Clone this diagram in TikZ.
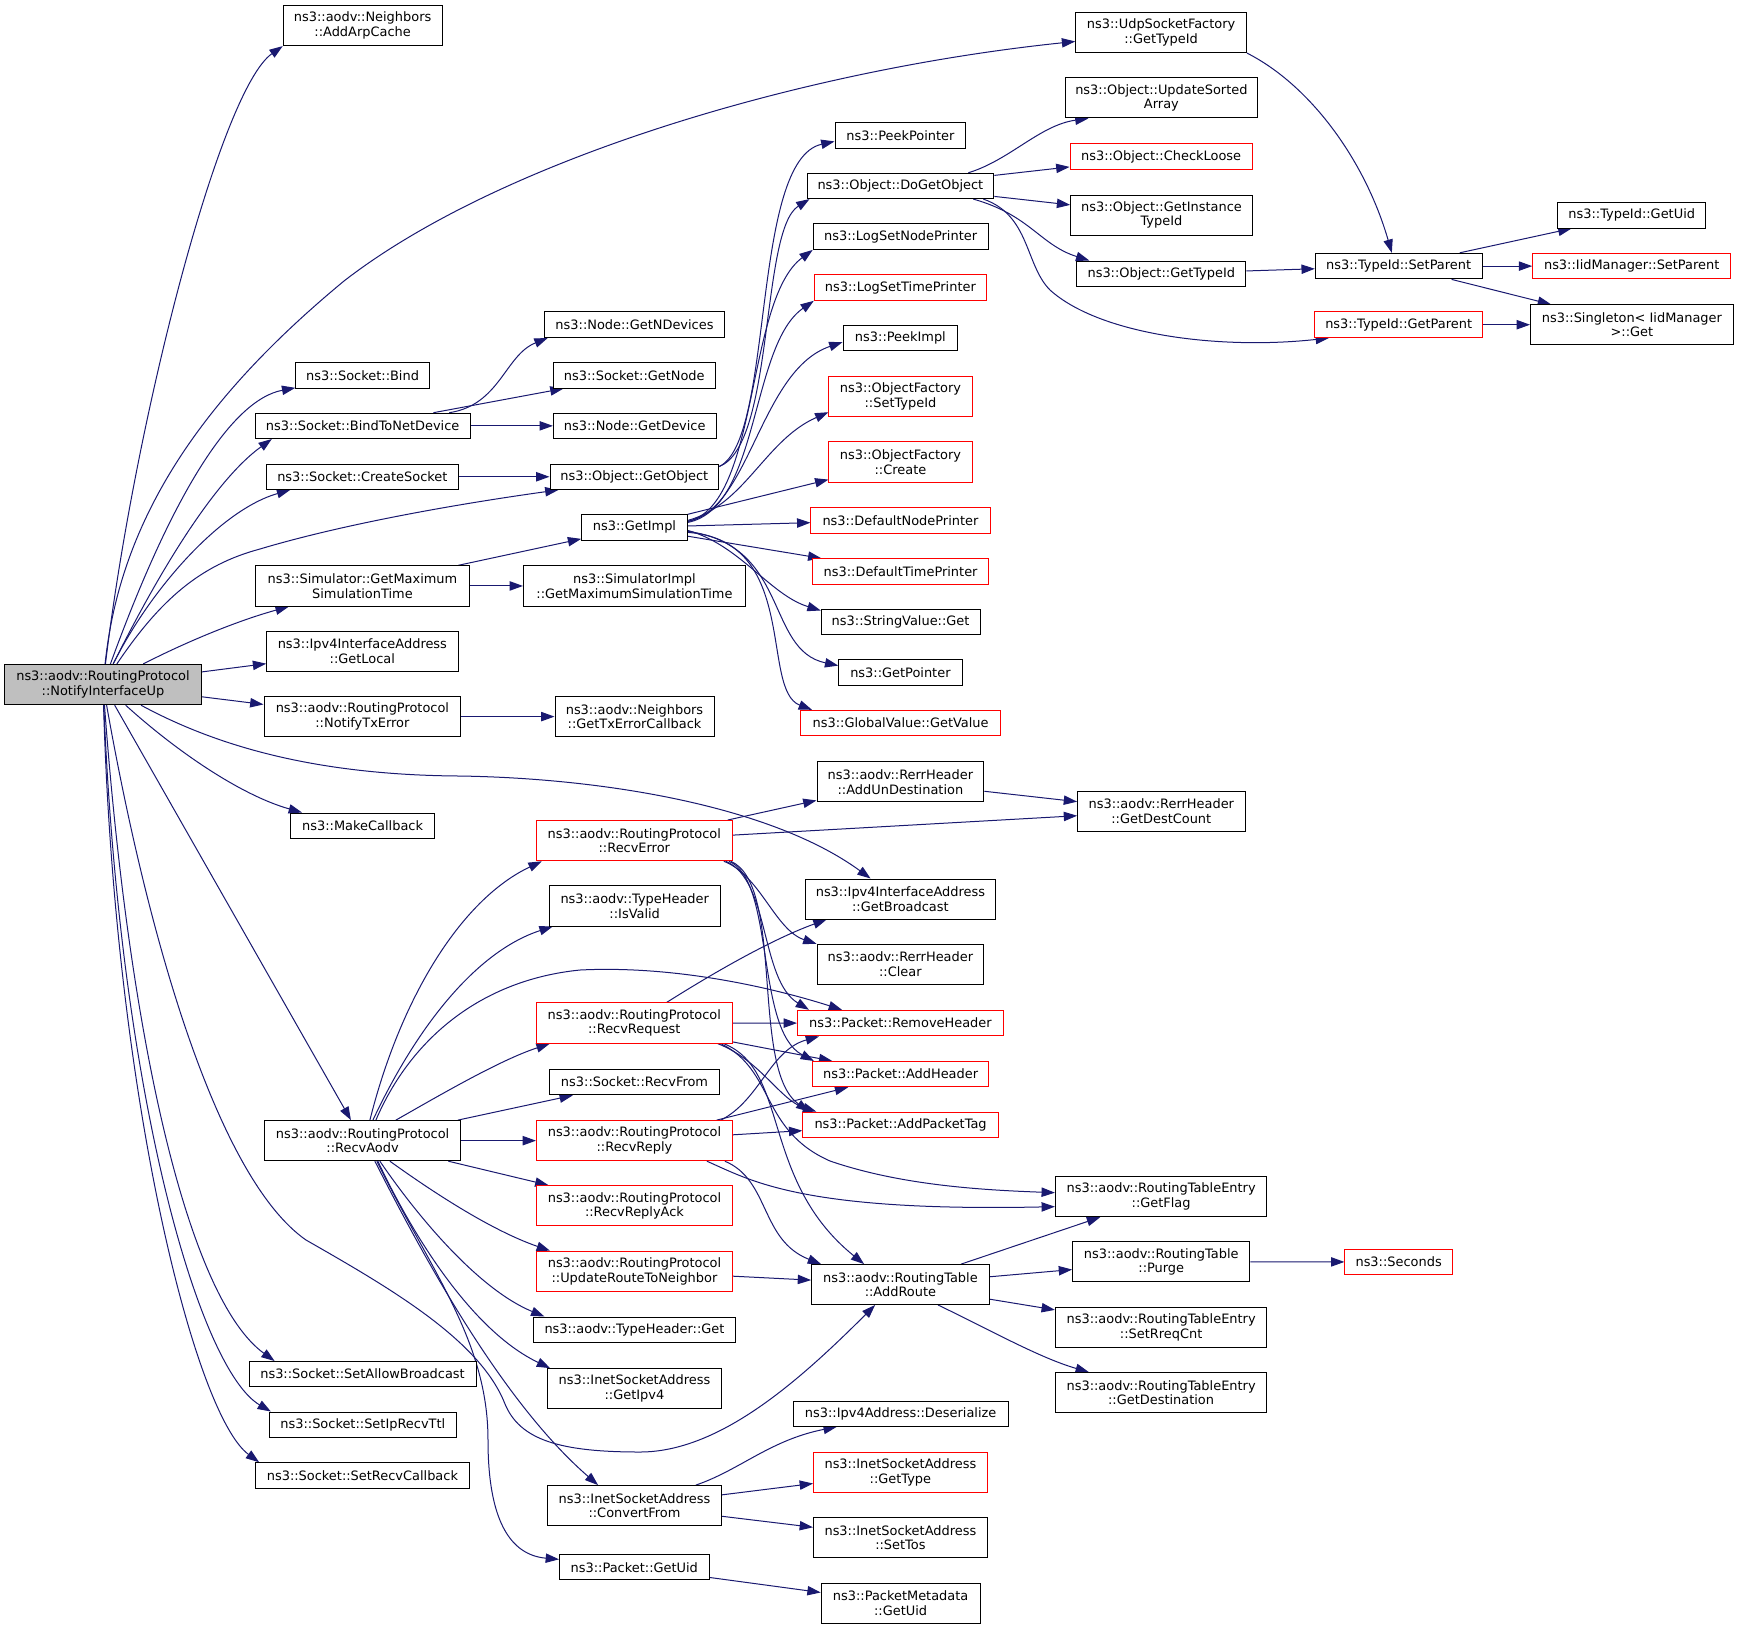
\documentclass[tikz,border=0pt]{standalone}
\usepackage{fontspec}
\setmainfont{DejaVu Sans}
\usetikzlibrary{arrows.meta,calc}
\definecolor{edgecol}{HTML}{191970}
\definecolor{rootfill}{HTML}{BFBFBF}
\pgfdeclarelayer{bg}
\pgfdeclarelayer{paper}
\pgfsetlayers{paper,bg,main}
\newcommand{\mkfn}[7][]{\node[fn,#1,minimum width={(#4-#3)*0.75pt},minimum height={(#6-#5)*0.75pt}] (#2) at ({(#3+#4)/2},{(#5+#6)/2}) {#7};}
\begin{document}
\begin{tikzpicture}[x=0.75pt,y=-0.75pt,
  fn/.style={draw=black,fill=white,line width=0.75pt,inner sep=0pt,align=center,font=\fontsize{9.7}{11}\selectfont},
  redfn/.style={draw=red},
  rootfn/.style={fill=rootfill},
  cl/.style={draw=edgecol,line width=0.75pt,-{Triangle[length=10pt,width=7pt]}}]
\begin{pgfonlayer}{paper}
\fill[white] (0,0) rectangle (1739,1629);
\end{pgfonlayer}
\useasboundingbox (0,0) rectangle (1739,1629);
% column 1-2
\mkfn[rootfn]{N}{4.6}{201.3}{664.4}{704.7}{ns3::aodv::RoutingProtocol\\::NotifyInterfaceUp}
\mkfn{AddArpCache}{283.2}{442}{5.6}{45.6}{ns3::aodv::Neighbors\\::AddArpCache}
\mkfn{Bind}{295.8}{429.4}{362.7}{388}{ns3::Socket::Bind}
\mkfn{BindTND}{255.3}{470}{413.2}{438.5}{ns3::Socket::BindToNetDevice}
\mkfn{CreateSocket}{266.7}{458}{464.1}{489.4}{ns3::Socket::CreateSocket}
\mkfn{GetMaxSim}{255.3}{469.6}{565.8}{606.1}{ns3::Simulator::GetMaximum\\SimulationTime}
\mkfn{GetLocal}{266.7}{458}{631.4}{671.4}{ns3::Ipv4InterfaceAddress\\::GetLocal}
\mkfn{NotifyTxError}{264}{460.8}{696.6}{736.6}{ns3::aodv::RoutingProtocol\\::NotifyTxError}
\mkfn{MakeCallback}{290.5}{434.7}{813}{838.7}{ns3::MakeCallback}
\mkfn{RecvAodv}{264.4}{460.8}{1120.6}{1160.7}{ns3::aodv::RoutingProtocol\\::RecvAodv}
\mkfn{SetAllowBroadcast}{249.1}{476}{1361.5}{1386.8}{ns3::Socket::SetAllowBroadcast}
\mkfn{SetIpRecvTtl}{269.4}{456.2}{1412}{1437.4}{ns3::Socket::SetIpRecvTtl}
\mkfn{SetRecvCallback}{255.6}{469.2}{1462.7}{1488}{ns3::Socket::SetRecvCallback}
% column 3
\mkfn{GetNDevices}{544.2}{724.8}{311.9}{337.5}{ns3::Node::GetNDevices}
\mkfn{GetNode}{553.4}{715.2}{362.7}{388}{ns3::Socket::GetNode}
\mkfn{GetDevice}{553.4}{716}{413.2}{438.5}{ns3::Node::GetDevice}
\mkfn{GetObject}{550}{718.6}{464.1}{489.4}{ns3::Object::GetObject}
\mkfn{GetImpl}{581.7}{687.3}{514.6}{540.2}{ns3::GetImpl}
\mkfn{SimImpl}{523.5}{745.4}{565.8}{606.1}{ns3::SimulatorImpl\\::GetMaximumSimulationTime}
\mkfn{GetTxErrCb}{555}{714}{696.6}{736.6}{ns3::aodv::Neighbors\\::GetTxErrorCallback}
\mkfn[redfn]{RecvError}{536.2}{732.4}{820.5}{860.8}{ns3::aodv::RoutingProtocol\\::RecvError}
\mkfn{IsValid}{549.2}{720.2}{885.7}{926}{ns3::aodv::TypeHeader\\::IsValid}
\mkfn[redfn]{RecvRequest}{536.2}{732.4}{1002.9}{1043.2}{ns3::aodv::RoutingProtocol\\::RecvRequest}
\mkfn{RecvFrom}{549.6}{719.4}{1069.2}{1094.8}{ns3::Socket::RecvFrom}
\mkfn[redfn]{RecvReply}{536.5}{732.4}{1120.6}{1160.7}{ns3::aodv::RoutingProtocol\\::RecvReply}
\mkfn[redfn]{RecvReplyAck}{536.5}{732.4}{1185.7}{1225.9}{ns3::aodv::RoutingProtocol\\::RecvReplyAck}
\mkfn[redfn]{UpdRTN}{536.5}{732.4}{1251.2}{1291.3}{ns3::aodv::RoutingProtocol\\::UpdateRouteToNeighbor}
\mkfn{THGet}{533.9}{735.1}{1317}{1342.3}{ns3::aodv::TypeHeader::Get}
\mkfn{GetIpv4}{547.6}{721.3}{1368.6}{1408.4}{ns3::InetSocketAddress\\::GetIpv4}
\mkfn{ConvertFrom}{547.6}{721.3}{1485.6}{1525.8}{ns3::InetSocketAddress\\::ConvertFrom}
\mkfn{PktGetUid}{559.5}{709.1}{1554.8}{1579.8}{ns3::Packet::GetUid}
% column 4
\mkfn{PeekPointer}{835}{965.9}{122.8}{148}{ns3::PeekPointer}
\mkfn{DoGetObject}{807}{993.8}{173.3}{198.6}{ns3::Object::DoGetObject}
\mkfn{LogNode}{813.2}{988}{223.8}{249.4}{ns3::LogSetNodePrinter}
\mkfn[redfn]{LogTime}{814.3}{986.5}{274.7}{300.3}{ns3::LogSetTimePrinter}
\mkfn{PeekImpl}{843}{957.8}{325.5}{350.8}{ns3::PeekImpl}
\mkfn[redfn]{SetTypeId}{828.9}{972}{376.4}{416.7}{ns3::ObjectFactory\\::SetTypeId}
\mkfn[redfn]{OFCreate}{828.9}{972}{441.7}{482}{ns3::ObjectFactory\\::Create}
\mkfn[redfn]{DefNode}{810.9}{990}{507.3}{533.2}{ns3::DefaultNodePrinter}
\mkfn[redfn]{DefTime}{812.4}{988.8}{558.8}{584}{ns3::DefaultTimePrinter}
\mkfn{StringGet}{821.2}{980}{609}{634.5}{ns3::StringValue::Get}
\mkfn{GetPointer}{838.8}{962}{659.8}{685.4}{ns3::GetPointer}
\mkfn[redfn]{GlobalValue}{800.5}{1000.7}{710.3}{735.9}{ns3::GlobalValue::GetValue}
\mkfn{AddUnDest}{817}{983.8}{761.9}{801.9}{ns3::aodv::RerrHeader\\::AddUnDestination}
\mkfn{GetBroadcast}{805.1}{995.7}{879}{919}{ns3::Ipv4InterfaceAddress\\::GetBroadcast}
\mkfn{Clear}{817}{983.8}{944.3}{984.6}{ns3::aodv::RerrHeader\\::Clear}
\mkfn[redfn]{RemoveHeader}{797.5}{1003.4}{1010.3}{1035.9}{ns3::Packet::RemoveHeader}
\mkfn[redfn]{AddHeader}{812.4}{988.8}{1061.5}{1086.7}{ns3::Packet::AddHeader}
\mkfn[redfn]{AddPacketTag}{802.8}{998.4}{1112.1}{1137.5}{ns3::Packet::AddPacketTag}
\mkfn{AddRoute}{811.6}{989.2}{1264.6}{1304.5}{ns3::aodv::RoutingTable\\::AddRoute}
\mkfn{Deserialize}{793.3}{1008}{1401}{1426.3}{ns3::Ipv4Address::Deserialize}
\mkfn[redfn]{GetType}{813.5}{987.3}{1452.6}{1492.7}{ns3::InetSocketAddress\\::GetType}
\mkfn{SetTos}{813.5}{987.3}{1517.7}{1557.9}{ns3::InetSocketAddress\\::SetTos}
\mkfn{PMGetUid}{821.2}{980}{1583.2}{1623.3}{ns3::PacketMetadata\\::GetUid}
% column 5
\mkfn{Udp}{1075.7}{1246.5}{12.6}{52.6}{ns3::UdpSocketFactory\\::GetTypeId}
\mkfn{UpdSorted}{1065}{1257.8}{77.9}{117.9}{ns3::Object::UpdateSorted\\Array}
\mkfn[redfn]{CheckLoose}{1070}{1252.2}{143.8}{169.4}{ns3::Object::CheckLoose}
\mkfn{GetInstTid}{1070.7}{1252.2}{195}{235}{ns3::Object::GetInstance\\TypeId}
\mkfn{ObjGetTid}{1076.8}{1245.8}{261}{286.3}{ns3::Object::GetTypeId}
\mkfn{GetDestCount}{1077.6}{1245}{791}{831}{ns3::aodv::RerrHeader\\::GetDestCount}
\mkfn{GetFlag}{1055.4}{1266.8}{1176.6}{1216.7}{ns3::aodv::RoutingTableEntry\\::GetFlag}
\mkfn{Purge}{1072.6}{1249.9}{1241.7}{1281.9}{ns3::aodv::RoutingTable\\::Purge}
\mkfn{SetRreqCnt}{1055.4}{1266.8}{1307.2}{1347.3}{ns3::aodv::RoutingTableEntry\\::SetRreqCnt}
\mkfn{GetDestination}{1055.4}{1266.8}{1372.6}{1412.8}{ns3::aodv::RoutingTableEntry\\::GetDestination}
% columns 6-7
\mkfn{SetParent}{1315.3}{1482}{253.3}{278.9}{ns3::TypeId::SetParent}
\mkfn[redfn]{GetParent}{1314.5}{1482.8}{311.9}{337.5}{ns3::TypeId::GetParent}
\mkfn[redfn]{Seconds}{1344.9}{1452.4}{1249.1}{1274.8}{ns3::Seconds}
\mkfn{TidGetUid}{1557.5}{1705.9}{202.8}{228}{ns3::TypeId::GetUid}
\mkfn[redfn]{IidSetParent}{1532.7}{1730.7}{253.3}{278.9}{ns3::IidManager::SetParent}
\mkfn{Singleton}{1530.5}{1733.3}{304.9}{344.5}{ns3::Singleton< IidManager\\ >::Get}

\begin{pgfonlayer}{bg}
% from NotifyInterfaceUp
\draw[cl] (N) .. controls (135,420) and (220,90) .. (AddArpCache.south west);
\draw[cl] (N) .. controls (120,520) and (200,400) .. (344,281) .. controls (500,160) and (800,70) .. (Udp);
\draw[cl] (N) .. controls (170,500) and (230,400) .. (Bind);
\draw[cl] (N) .. controls (160,570) and (215,480) .. ($(BindTND.south west)+(17,0)$);
\draw[cl] (N) .. controls (150,590) and (220,510) .. ($(CreateSocket.south west)+(24,0)$);
\draw[cl] (N) .. controls (160,600) and (200,565) .. (260,549) .. controls (340,525) and (450,505) .. ($(GetObject.south west)+(9,0)$);
\draw[cl] (N) .. controls (190,640) and (240,620) .. ($(GetMaxSim.south west)+(34,0)$);
\draw[cl] (N) -- (GetLocal);
\draw[cl] (N) -- (NotifyTxError);
\draw[cl] (N) .. controls (220,748) and (320,775) .. (459,776) .. controls (600,778) and (770,805) .. ($(GetBroadcast.north west)+(66,0)$);
\draw[cl] (N) .. controls (175,750) and (240,795) .. ($(MakeCallback.north west)+(12,0)$);
\draw[cl] (N) -- (RecvAodv);
\draw[cl] (N) .. controls (150,950) and (220,1180) .. (306,1240) .. controls (390,1288) and (480,1340) .. (505,1404) .. controls (520,1440) and (560,1452) .. (640,1452) .. controls (720,1452) and (800,1380) .. ($(AddRoute.south west)+(64,0)$);
\draw[cl] (N) .. controls (130,1050) and (190,1300) .. ($(SetAllowBroadcast.north west)+(26,0)$);
\draw[cl] (N) .. controls (120,1100) and (200,1370) .. ($(SetIpRecvTtl.north west)+(2,0)$);
\draw[cl] (N) .. controls (115,1100) and (195,1415) .. ($(SetRecvCallback.north west)+(4,0)$);
% socket / object
\draw[cl] (BindTND) .. controls (500,405) and (505,355) .. ($(GetNDevices.south west)+(4,0)$);
\draw[cl] (BindTND) -- (GetNode);
\draw[cl] (BindTND) -- (GetDevice);
\draw[cl] (CreateSocket) -- (GetObject);
\draw[cl] ($(GetObject.north east)+(0,3)$) .. controls (775,445) and (760,230) .. ($(DoGetObject.south west)+(3,0)$);
\draw[cl] ($(GetObject.north east)+(0,3)$) .. controls (775,440) and (750,160) .. ($(PeekPointer.west)+(0,6)$);
\draw[cl] (GetMaxSim) -- (GetImpl);
\draw[cl] (GetMaxSim) -- (SimImpl);
\draw[cl] (NotifyTxError) -- (GetTxErrCb);
% GetImpl fan
\draw[cl] ($(GetImpl.east)+(0,-6)$) .. controls (760,505) and (745,300) .. (LogNode.south west);
\draw[cl] ($(GetImpl.east)+(0,-5)$) .. controls (760,508) and (750,345) .. (LogTime.south west);
\draw[cl] ($(GetImpl.east)+(0,-6)$) .. controls (750,510) and (760,370) .. ($(PeekImpl.west)+(0,4)$);
\draw[cl] ($(GetImpl.east)+(0,-7)$) .. controls (745,505) and (765,440) .. ($(SetTypeId.south west)+(0,-5)$);
\draw[cl] (GetImpl) -- (OFCreate);
\draw[cl] (GetImpl) -- (DefNode);
\draw[cl] (GetImpl) -- (DefTime);
\draw[cl] ($(GetImpl.east)+(0,3)$) .. controls (740,545) and (770,595) .. ($(StringGet.north west)+(0,2)$);
\draw[cl] ($(GetImpl.east)+(0,4)$) .. controls (790,545) and (765,650) .. ($(GetPointer.west)+(0,-7)$);
\draw[cl] ($(GetImpl.east)+(0,5)$) .. controls (800,540) and (760,690) .. ($(GlobalValue.north west)+(12,0)$);
% DoGetObject
\draw[cl] ($(DoGetObject.north east)+(-26,0)$) .. controls (1010,160) and (1040,125) .. ($(UpdSorted.south west)+(24,0)$);
\draw[cl] (DoGetObject) -- (CheckLoose);
\draw[cl] (DoGetObject) -- (GetInstTid);
\draw[cl] ($(DoGetObject.south east)+(-21,0)$) .. controls (1030,215) and (1040,245) .. ($(ObjGetTid.north west)+(13,0)$);
\draw[cl] ($(DoGetObject.south east)+(-11,0)$) .. controls (1030,215) and (1025,265) .. (1050,290) .. controls (1100,335) and (1220,350) .. ($(GetParent.south west)+(15,0)$);
% TypeId
\draw[cl] (Udp.south east) .. controls (1310,85) and (1365,160) .. ($(SetParent.north west)+(77,0)$);
\draw[cl] (ObjGetTid) -- (SetParent);
\draw[cl] (SetParent) -- (TidGetUid);
\draw[cl] (SetParent) -- (IidSetParent);
\draw[cl] (SetParent) -- (Singleton);
\draw[cl] (GetParent) -- (Singleton);
% RecvAodv
\draw[cl] ($(RecvAodv.north west)+(106,0)$) .. controls (400,1000) and (460,900) .. ($(RecvError.south west)+(6,0)$);
\draw[cl] ($(RecvAodv.north west)+(109,0)$) .. controls (420,1020) and (480,950) .. ($(IsValid.south west)+(4,0)$);
\draw[cl] ($(RecvAodv.north west)+(112,0)$) .. controls (410,1040) and (480,980) .. (580,970) .. controls (680,965) and (780,990) .. ($(RemoveHeader.north west)+(45,0)$);
\draw[cl] ($(RecvAodv.north west)+(132,0)$) .. controls (440,1095) and (500,1060) .. ($(RecvRequest.south west)+(14,0)$);
\draw[cl] (RecvAodv) -- (RecvFrom);
\draw[cl] (RecvAodv) -- (RecvReply);
\draw[cl] (RecvAodv) -- (RecvReplyAck);
\draw[cl] ($(RecvAodv.south west)+(126,0)$) .. controls (430,1190) and (490,1230) .. ($(UpdRTN.north west)+(14,0)$);
\draw[cl] ($(RecvAodv.south west)+(116,0)$) .. controls (420,1220) and (480,1290) .. ($(THGet.north west)+(11,0)$);
\draw[cl] ($(RecvAodv.south west)+(114,0)$) .. controls (410,1230) and (470,1330) .. ($(GetIpv4.north west)+(3,0)$);
\draw[cl] ($(RecvAodv.south west)+(111,0)$) .. controls (420,1250) and (500,1400) .. ($(ConvertFrom.north west)+(51,0)$);
\draw[cl] ($(RecvAodv.south west)+(113,0)$) .. controls (430,1270) and (488,1340) .. (488,1440) .. controls (488,1520) and (510,1555) .. ($(PktGetUid.west)+(0,-8)$);
% RecvError
\draw[cl] (RecvError) -- (AddUnDest);
\draw[cl] (RecvError) -- (GetDestCount);
\draw[cl] (AddUnDest) -- (GetDestCount);
\draw[cl] ($(RecvError.south east)+(-9,0)$) .. controls (760,875) and (775,930) .. (Clear.north west);
\draw[cl] ($(RecvError.south east)+(-7,0)$) .. controls (770,880) and (760,980) .. ($(RemoveHeader.north west)+(12,0)$);
\draw[cl] ($(RecvError.south east)+(-4,0)$) .. controls (775,880) and (755,1030) .. ($(AddHeader.north west)+(2,0)$);
\draw[cl] ($(RecvError.south east)+(-2,0)$) .. controls (785,885) and (750,1070) .. ($(AddPacketTag.north west)+(7,0)$);
% RecvRequest
\draw[cl] ($(RecvRequest.north west)+(131,0)$) .. controls (710,975) and (770,940) .. ($(GetBroadcast.south west)+(22,0)$);
\draw[cl] (RecvRequest) -- (RemoveHeader);
\draw[cl] (RecvRequest) -- (AddHeader);
\draw[cl] ($(RecvRequest.south east)+(-15,0)$) .. controls (760,1060) and (780,1100) .. ($(AddPacketTag.north west)+(14,0)$);
\draw[cl] ($(RecvRequest.south east)+(-12,0)$) .. controls (775,1070) and (760,1130) .. (830,1161) .. controls (900,1185) and (980,1190) .. ($(GetFlag.west)+(0,-4)$);
\draw[cl] ($(RecvRequest.south east)+(-9,0)$) .. controls (790,1070) and (760,1180) .. ($(AddRoute.north west)+(53,0)$);
% RecvReply
\draw[cl] ($(RecvReply.north east)+(-12,0)$) .. controls (760,1100) and (770,1050) .. ($(RemoveHeader.south west)+(22,0)$);
\draw[cl] (RecvReply) -- (AddHeader);
\draw[cl] (RecvReply) -- (AddPacketTag);
\draw[cl] ($(RecvReply.south east)+(-26,0)$) .. controls (750,1180) and (800,1212) .. ($(GetFlag.west)+(0,10)$);
\draw[cl] ($(RecvReply.south east)+(-8,0)$) .. controls (770,1180) and (760,1240) .. ($(AddRoute.north west)+(10,0)$);
% routing table
\draw[cl] (UpdRTN) -- (AddRoute);
\draw[cl] (AddRoute) -- (GetFlag);
\draw[cl] (AddRoute) -- (Purge);
\draw[cl] (AddRoute) -- (SetRreqCnt);
\draw[cl] ($(AddRoute.south west)+(127,0)$) .. controls (990,1330) and (1040,1358) .. ($(GetDestination.north west)+(34,0)$);
\draw[cl] (Purge) -- (Seconds);
% ConvertFrom / GetUid
\draw[cl] ($(ConvertFrom.north east)+(-26,0)$) .. controls (740,1470) and (770,1440) .. ($(Deserialize.south west)+(44,0)$);
\draw[cl] (ConvertFrom) -- (GetType);
\draw[cl] (ConvertFrom) -- (SetTos);
\draw[cl] (PktGetUid) -- (PMGetUid);
\end{pgfonlayer}
\end{tikzpicture}
\end{document}
